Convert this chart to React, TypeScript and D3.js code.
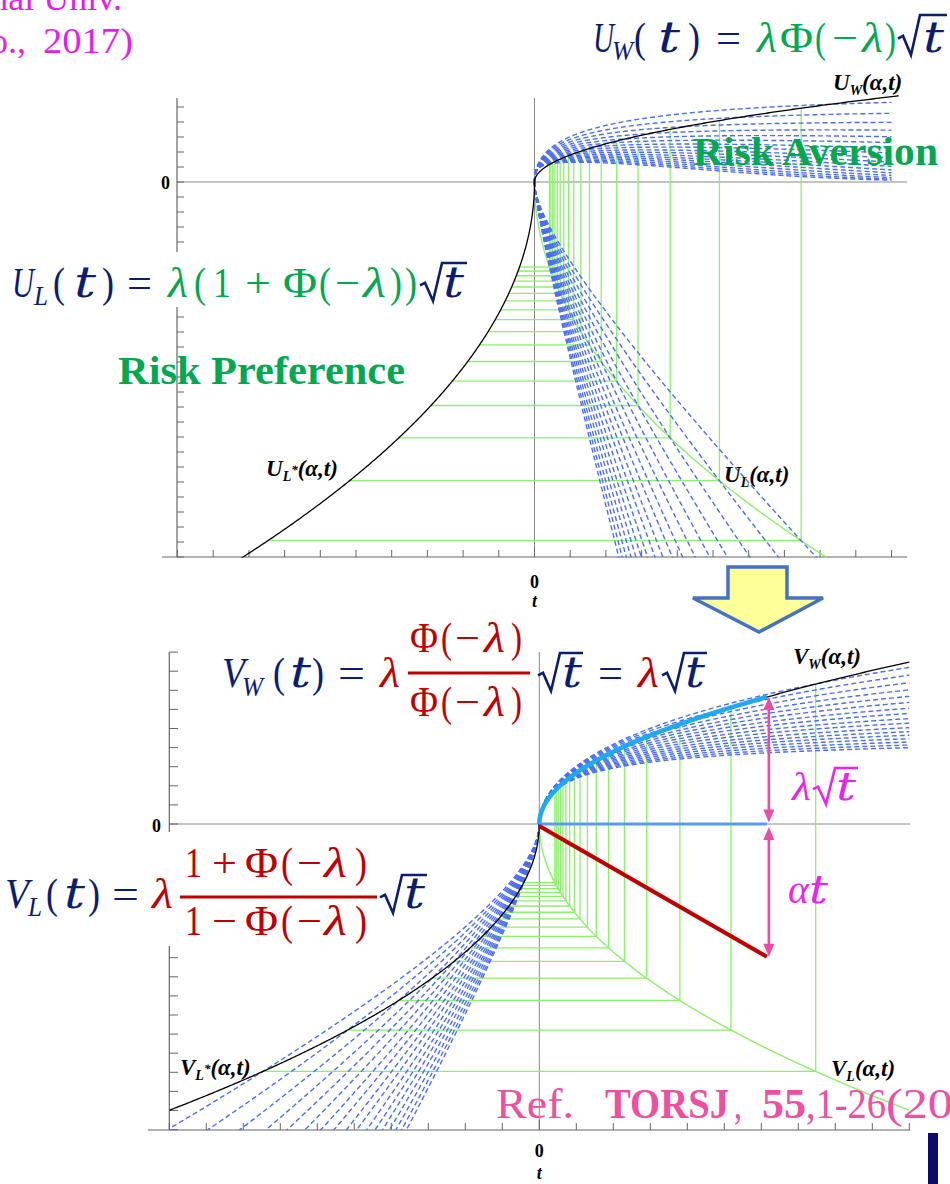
import React from "react";
import * as d3 from "d3";

// ---------- values ----------
// strategy times t_k (one per drift level α_k), marked by the green guide lines
const T_MARK = [7.47, 5.18, 3.8, 2.9, 2.3, 1.87, 1.54, 1.3, 1.1, 0.95, 0.82, 0.72, 0.64, 0.57, 0.51, 0.46, 0.42];
// √t coefficients of the envelope curves (axis tick units)
const U_WIN_COEF = 1.8;
const U_LOSS_COEF = 8.75;
const V_WIN_COEF = 2.68;
const V_LOSS_COEF = 4.74;
// shape of the dashed per-α curves
const U_WIN_SHAPE = { peak: 2.2, slope: 4.2, fade: 3.9 };
const U_LOSS_SHAPE = { root: 3.26, drift: 5.49 };
const V_WIN_SHAPE = { slope: 3.15, cap: 7.5, bend: 1.5 };
const V_LOSS_SHAPE = { root: 2.81, drift: 1.93 };
// time and drift used for the λ√t / αt annotation
const T_STAR = 6.15;
const ALPHA_RATE = 1.13;
// axis extents (tick units)
const TOP_T_RANGE = [-10, 10];
const TOP_Y_RANGE = [-25, 5];
const BOT_T_RANGE = [-10, 10];
const BOT_Y_RANGE = [-16, 9];

// ---------- scales ----------
const xTop = d3.scaleLinear().domain([-10, 10]).range([177.5, 891.5]);
const yTop = d3.scaleLinear().domain([-25, 0]).range([557, 182]);
const xBot = d3.scaleLinear().domain([-10, 10]).range([169.3, 909.3]);
const yBot = d3.scaleLinear().domain([-16, 0]).range([1129.6, 824]);

const NAVY = "#0c1c70";
const GREEN_TXT = "#00a850";
const RED = "#c00000";
const MAGENTA = "#ee22ee";
const PINK = "#ee4aa6";
const BLUE_DASH = "#4d6ef2";
const GUIDE = "#8cf06a";
const AXIS = "#666";
const ZERO = "#8a8a8a";
const MATH = "'Liberation Serif', 'DejaVu Serif', serif";
const MATH_T = "'DejaVu Serif', 'Liberation Serif', serif";

type Pt = [number, number];

// quadratic spacing of t so the √t shape near the origin is resolved
const sampleT = (tMax: number, n = 320): number[] => d3.range(n + 1).map((i) => tMax * (i / n) * (i / n));

const uWin = (u: number) => {
  const s = U_WIN_SHAPE;
  return s.peak * (1 - Math.exp((-s.slope * u) / s.peak)) * Math.exp(-Math.pow(u / s.fade, 4));
};
const vWin = (u: number) => {
  const s = V_WIN_SHAPE;
  return (s.slope * u) / Math.pow(1 + Math.pow((s.slope * u) / s.cap, s.bend), 1 / s.bend);
};

const topLine = d3
  .line<Pt>()
  .x((d) => xTop(d[0]))
  .y((d) => yTop(d[1]));
const botLine = d3
  .line<Pt>()
  .x((d) => xBot(d[0]))
  .y((d) => yBot(d[1]));

function Gl(p: {
  s: string;
  x: number;
  y: number;
  w?: number;
  size?: number;
  c: string;
  it?: boolean;
  b?: boolean;
  fam?: string;
}) {
  return (
    <text
      x={p.x}
      y={p.y}
      fontSize={p.size ?? 42}
      fill={p.c}
      fontStyle={p.it ? "italic" : "normal"}
      fontWeight={p.b ? "bold" : "normal"}
      fontFamily={p.fam ?? MATH}
      textLength={p.w}
      lengthAdjust="spacingAndGlyphs"
    >
      {p.s}
    </text>
  );
}

// italic variable t, drawn a little wider than the body serif
function TGlyph(p: { x: number; y: number; c: string; size?: number; w?: number }) {
  return <Gl s="t" x={p.x} y={p.y} w={p.w ?? 19} size={p.size ?? 42} c={p.c} it fam={MATH_T} />;
}

function Radical(p: { x0: number; x1: number; top: number; base: number; c: string; sw?: number }) {
  const h = p.base - p.top;
  const d = `M${p.x0},${p.top + h * 0.62} L${p.x0 + 5},${p.top + h * 0.55} L${p.x0 + 13},${p.base + 2} L${p.x0 + 22},${p.top} L${p.x1},${p.top}`;
  return <path d={d} fill="none" stroke={p.c} strokeWidth={p.sw ?? 2.6} strokeLinejoin="miter" />;
}

function CurveLabel(p: { x: number; y: number; sub: string; star?: boolean; head: string }) {
  return (
    <text x={p.x} y={p.y} fontFamily={MATH} fontStyle="italic" fontWeight="bold" fontSize={23} fill="#000">
      {p.head}
      <tspan fontSize={14} dy={5}>
        {p.sub}
      </tspan>
      {p.star ? (
        <tspan fontSize={13} dy={-7}>
          *
        </tspan>
      ) : null}
      <tspan dy={p.star ? 2 : -5}>(α,t)</tspan>
    </text>
  );
}

function DoubleArrow(p: { x: number; y1: number; y2: number }) {
  const head = 13;
  const hw = 5.5;
  const { x, y1, y2 } = p;
  return (
    <g>
      <line x1={x} y1={y1 + head - 2} x2={x} y2={y2 - head + 2} stroke={PINK} strokeWidth={2.6} />
      <polygon points={`${x},${y1} ${x - hw},${y1 + head} ${x + hw},${y1 + head}`} fill={PINK} />
      <polygon points={`${x},${y2} ${x - hw},${y2 - head} ${x + hw},${y2 - head}`} fill={PINK} />
    </g>
  );
}

export default function App() {
  const winT = sampleT(10);
  const marks = T_MARK.map((t) => ({ t, a: 1 / Math.sqrt(t) }));

  // dashed per-α curves
  const topWinPaths = marks.map((m) => topLine(winT.map((t) => [t, uWin(m.a * Math.sqrt(t)) / m.a] as Pt)) as string);
  const topLossPaths = marks.map(
    (m) => topLine(winT.map((t) => [t, -(U_LOSS_SHAPE.root * Math.sqrt(t) + U_LOSS_SHAPE.drift * m.a * t)] as Pt)) as string
  );
  const botWinPaths = marks.map((m) => botLine(winT.map((t) => [t, vWin(m.a * Math.sqrt(t)) / m.a] as Pt)) as string);
  const botLossPaths = marks.map(
    (m) => botLine(winT.map((t) => [-t, -(V_LOSS_SHAPE.root * Math.sqrt(t) + V_LOSS_SHAPE.drift * m.a * t)] as Pt)) as string
  );

  // envelope curves
  const uW = topLine(sampleT(10.2).map((t) => [t, U_WIN_COEF * Math.sqrt(t)] as Pt)) as string;
  const uL = topLine(sampleT(8.4).map((t) => [t, -U_LOSS_COEF * Math.sqrt(t)] as Pt)) as string;
  const uLs = topLine(sampleT(8.4).map((t) => [-t, -U_LOSS_COEF * Math.sqrt(t)] as Pt)) as string;
  const vW = botLine(sampleT(10).map((t) => [t, V_WIN_COEF * Math.sqrt(t)] as Pt)) as string;
  const vL = botLine(sampleT(10).map((t) => [t, -V_LOSS_COEF * Math.sqrt(t)] as Pt)) as string;
  const vLs = botLine(sampleT(10).map((t) => [-t, -V_LOSS_COEF * Math.sqrt(t)] as Pt)) as string;
  const cyan = botLine(sampleT(T_STAR).map((t) => [t, V_WIN_COEF * Math.sqrt(t)] as Pt)) as string;

  const starTop = yBot(V_WIN_COEF * Math.sqrt(T_STAR));
  const starBottom = yBot(-ALPHA_RATE * T_STAR);
  const xStar = xBot(T_STAR);

  const topXTicks = d3.range(TOP_T_RANGE[0], TOP_T_RANGE[1] + 1);
  const topYTicks = d3.range(TOP_Y_RANGE[0], TOP_Y_RANGE[1] + 1);
  const botXTicks = d3.range(BOT_T_RANGE[0], BOT_T_RANGE[1] + 1);
  const botYTicks = d3.range(BOT_Y_RANGE[0], BOT_Y_RANGE[1] + 1);

  return (
    <svg
      width={950}
      height={1184}
      viewBox="0 0 950 1184"
      style={{ position: "absolute", left: 0, top: 0, background: "#fff" }}
      xmlns="http://www.w3.org/2000/svg"
    >
      <defs>
        <clipPath id="clipTop">
          <rect x={177} y={94} width={740} height={463.5} />
        </clipPath>
        <clipPath id="clipBot">
          <rect x={169.3} y={648} width={745} height={482} />
        </clipPath>
      </defs>
      <rect x={0} y={0} width={950} height={1184} fill="#fff" />

      {/* ---------------- upper panel ---------------- */}
      <g>
        <line x1={177} x2={907} y1={yTop(0)} y2={yTop(0)} stroke={ZERO} strokeWidth={1} />
        <line x1={xTop(0)} x2={xTop(0)} y1={98} y2={557} stroke={ZERO} strokeWidth={1} />
        <line x1={177} x2={177} y1={98} y2={557} stroke={AXIS} strokeWidth={1.2} />
        <line x1={162} x2={907} y1={557} y2={557} stroke={AXIS} strokeWidth={1.2} />
        {topYTicks.map((v) => (
          <line key={`tyt${v}`} x1={177} x2={184} y1={yTop(v)} y2={yTop(v)} stroke={AXIS} strokeWidth={1} />
        ))}
        {topXTicks.map((v) => (
          <line key={`txt${v}`} x1={xTop(v)} x2={xTop(v)} y1={557} y2={v === 0 ? 547 : 550} stroke={AXIS} strokeWidth={1} />
        ))}
        <g clipPath="url(#clipTop)">
          {marks.map((m, i) => (
            <g key={`tg${i}`} stroke={GUIDE} strokeWidth={1.3}>
              <line
                x1={xTop(m.t)}
                x2={xTop(m.t)}
                y1={yTop(U_WIN_COEF * Math.sqrt(m.t))}
                y2={yTop(-U_LOSS_COEF * Math.sqrt(m.t))}
              />
              <line
                x1={xTop(-m.t)}
                x2={xTop(m.t)}
                y1={yTop(-U_LOSS_COEF * Math.sqrt(m.t))}
                y2={yTop(-U_LOSS_COEF * Math.sqrt(m.t))}
              />
            </g>
          ))}
          <path d={uL} fill="none" stroke={GUIDE} strokeWidth={1.4} />
          {topWinPaths.concat(topLossPaths).map((d, i) => (
            <path key={`tdash${i}`} d={d} fill="none" stroke={BLUE_DASH} strokeWidth={1.4} strokeDasharray="5,3" />
          ))}
          <path d={uW} fill="none" stroke="#000" strokeWidth={1.3} />
          <path d={uLs} fill="none" stroke="#000" strokeWidth={1.3} />
        </g>
        <text x={170} y={189} textAnchor="end" fontFamily={MATH} fontWeight="bold" fontSize={18}>
          0
        </text>
        <text x={xTop(0)} y={588} textAnchor="middle" fontFamily={MATH} fontWeight="bold" fontSize={18}>
          0
        </text>
        <text x={xTop(0)} y={607} textAnchor="middle" fontFamily={MATH} fontStyle="italic" fontWeight="bold" fontSize={18}>
          t
        </text>
        <CurveLabel x={833} y={90} head="U" sub="W" />
        <CurveLabel x={266} y={476} head="U" sub="L" star />
        <CurveLabel x={724} y={482} head="U" sub="L" />
      </g>

      {/* ---------------- lower panel ---------------- */}
      <g>
        <line x1={169.3} x2={910} y1={yBot(0)} y2={yBot(0)} stroke={ZERO} strokeWidth={1} />
        <line x1={xBot(0)} x2={xBot(0)} y1={652} y2={1130} stroke={ZERO} strokeWidth={1} />
        <line x1={169.3} x2={169.3} y1={652} y2={1130} stroke={AXIS} strokeWidth={1.2} />
        <line x1={148} x2={910} y1={1130} y2={1130} stroke={AXIS} strokeWidth={1.2} />
        {botYTicks.map((v) => (
          <line key={`byt${v}`} x1={169.3} x2={178} y1={yBot(v)} y2={yBot(v)} stroke={AXIS} strokeWidth={1} />
        ))}
        {botXTicks.map((v) => (
          <line key={`bxt${v}`} x1={xBot(v)} x2={xBot(v)} y1={1130} y2={v === 0 ? 1120 : 1123} stroke={AXIS} strokeWidth={1} />
        ))}
        <g clipPath="url(#clipBot)">
          {marks.map((m, i) => (
            <g key={`bg${i}`} stroke={GUIDE} strokeWidth={1.3}>
              <line
                x1={xBot(m.t)}
                x2={xBot(m.t)}
                y1={yBot(V_WIN_COEF * Math.sqrt(m.t))}
                y2={yBot(-V_LOSS_COEF * Math.sqrt(m.t))}
              />
              <line
                x1={xBot(-m.t)}
                x2={xBot(m.t)}
                y1={yBot(-V_LOSS_COEF * Math.sqrt(m.t))}
                y2={yBot(-V_LOSS_COEF * Math.sqrt(m.t))}
              />
            </g>
          ))}
          <path d={vL} fill="none" stroke={GUIDE} strokeWidth={1.4} />
          {botWinPaths.concat(botLossPaths).map((d, i) => (
            <path key={`bdash${i}`} d={d} fill="none" stroke={BLUE_DASH} strokeWidth={1.4} strokeDasharray="5,3" />
          ))}
          <path d={vW} fill="none" stroke="#000" strokeWidth={1.3} />
          <path d={vLs} fill="none" stroke="#000" strokeWidth={1.3} />
        </g>
        <line x1={xBot(0)} x2={xStar} y1={yBot(0)} y2={yBot(0)} stroke="#5b9bf5" strokeWidth={3} />
        <path d={cyan} fill="none" stroke="#1eaaf0" strokeWidth={4.5} />
        <line x1={xBot(0)} y1={yBot(0) + 2} x2={xStar} y2={starBottom} stroke={RED} strokeWidth={4.2} />
        <DoubleArrow x={xStar + 2} y1={starTop} y2={yBot(0) - 1.5} />
        <DoubleArrow x={xStar + 2} y1={yBot(0) + 3} y2={starBottom} />
        <text x={161} y={832} textAnchor="end" fontFamily={MATH} fontWeight="bold" fontSize={18}>
          0
        </text>
        <text x={xBot(0)} y={1157} textAnchor="middle" fontFamily={MATH} fontWeight="bold" fontSize={18}>
          0
        </text>
        <text x={xBot(0)} y={1179} textAnchor="middle" fontFamily={MATH} fontStyle="italic" fontWeight="bold" fontSize={18}>
          t
        </text>
        <CurveLabel x={793} y={664} head="V" sub="W" />
        <CurveLabel x={180} y={1075} head="V" sub="L" star />
        <CurveLabel x={831} y={1076} head="V" sub="L" />
      </g>

      {/* ---------------- block arrow between panels ---------------- */}
      <polygon
        points="728,567 787,567 787,598 823,598 759,632 693,598 728,598"
        fill="#ffff99"
        stroke="#4472c4"
        strokeWidth={3.5}
        strokeLinejoin="miter"
      />

      {/* ---------------- header text ---------------- */}
      <text x={122} y={10} textAnchor="end" fontFamily={MATH} fontSize={36} fill="#e61ee6">
        National Univ.
      </text>
      <text x={26} y={53} textAnchor="end" fontFamily={MATH} fontSize={36} fill="#e61ee6">
        Co.,
      </text>
      <Gl s="2017)" x={43} y={53} w={90} size={36} c="#e61ee6" />

      {/* U_W(t) = λΦ(−λ)√t */}
      <Gl s="U" x={593} y={52} w={21} c={NAVY} it />
      <Gl s="W" x={612} y={60} w={21} size={27} c={NAVY} it />
      <Gl s="(" x={634} y={52} w={12} c={NAVY} />
      <TGlyph x={658} y={52} c={NAVY} w={22} />
      <Gl s=")" x={688} y={52} w={12} c={NAVY} />
      <Gl s="=" x={716} y={52} w={25} c={NAVY} />
      <Gl s="λ" x={757} y={52} w={20} c={GREEN_TXT} it />
      <Gl s="Φ" x={780} y={52} w={33} c={GREEN_TXT} />
      <Gl s="(" x={815} y={52} w={11} c={GREEN_TXT} />
      <Gl s="−" x={832} y={52} w={26} c={GREEN_TXT} />
      <Gl s="λ" x={862} y={52} w={21} c={GREEN_TXT} it />
      <Gl s=")" x={885} y={52} w={11} c={GREEN_TXT} />
      <Radical x0={898} x1={947} top={15} base={53} c={NAVY} />
      <TGlyph x={923} y={52} c={NAVY} w={21} />

      <text x={693} y={165} fontFamily={MATH} fontWeight="bold" fontSize={40} fill={GREEN_TXT} textLength={245} lengthAdjust="spacingAndGlyphs">
        Risk Aversion
      </text>

      {/* U_L(t) = λ(1 + Φ(−λ))√t */}
      <rect x={0} y={252} width={478} height={55} fill="#fff" />
      <Gl s="U" x={12} y={297} w={22} c={NAVY} it />
      <Gl s="L" x={34} y={305} w={14} size={27} c={NAVY} it />
      <Gl s="(" x={53} y={297} w={12} c={NAVY} />
      <TGlyph x={74} y={297} c={NAVY} w={22} />
      <Gl s=")" x={102} y={297} w={12} c={NAVY} />
      <Gl s="=" x={127} y={297} w={25} c={NAVY} />
      <Gl s="λ" x={168} y={297} w={20} c={GREEN_TXT} it />
      <Gl s="(" x={194} y={297} w={12} c={GREEN_TXT} />
      <Gl s="1" x={213} y={297} w={18} c={GREEN_TXT} />
      <Gl s="+" x={245} y={297} w={26} c={GREEN_TXT} />
      <Gl s="Φ" x={283} y={297} w={34} c={GREEN_TXT} />
      <Gl s="(" x={319} y={297} w={12} c={GREEN_TXT} />
      <Gl s="−" x={335} y={297} w={25} c={GREEN_TXT} />
      <Gl s="λ" x={363} y={297} w={23} c={GREEN_TXT} it />
      <Gl s=")" x={390} y={297} w={12} c={GREEN_TXT} />
      <Gl s=")" x={405} y={297} w={12} c={GREEN_TXT} />
      <Radical x0={420} x1={467} top={263} base={299} c={NAVY} />
      <TGlyph x={443} y={297} c={NAVY} w={21} />

      <text x={118} y={384} fontFamily={MATH} fontWeight="bold" fontSize={40} fill={GREEN_TXT} textLength={287} lengthAdjust="spacingAndGlyphs">
        Risk Preference
      </text>

      {/* V_W(t) = λ Φ(−λ)/Φ(−λ) √t = λ√t */}
      <Gl s="V" x={222} y={687} w={23} c={NAVY} it />
      <Gl s="W" x={242} y={696} w={21} size={27} c={NAVY} it />
      <Gl s="(" x={273} y={687} w={12} c={NAVY} />
      <TGlyph x={290} y={687} c={NAVY} w={21} />
      <Gl s=")" x={312} y={687} w={12} c={NAVY} />
      <Gl s="=" x={338} y={687} w={27} c={NAVY} />
      <Gl s="λ" x={380} y={687} w={20} c={RED} it />
      <line x1={408} x2={530} y1={673} y2={673} stroke={RED} strokeWidth={3} />
      {[652, 716].map((by) => (
        <g key={`vwf${by}`}>
          <Gl s="Φ" x={410} y={by} w={28} c={RED} />
          <Gl s="(" x={441} y={by} w={11} c={RED} />
          <Gl s="−" x={455} y={by} w={25} c={RED} />
          <Gl s="λ" x={484} y={by} w={21} c={RED} it />
          <Gl s=")" x={511} y={by} w={11} c={RED} />
        </g>
      ))}
      <Radical x0={538} x1={583} top={653} base={689} c={NAVY} />
      <TGlyph x={562} y={687} c={NAVY} w={20} />
      <Gl s="=" x={598} y={687} w={25} c={NAVY} />
      <Gl s="λ" x={638} y={687} w={21} c={RED} it />
      <Radical x0={662} x1={707} top={653} base={689} c={NAVY} />
      <TGlyph x={685} y={687} c={NAVY} w={20} />

      {/* V_L(t) = λ (1+Φ(−λ))/(1−Φ(−λ)) √t */}
      <rect x={0} y={832} width={432} height={114} fill="#fff" />
      <Gl s="V" x={5} y={908} w={24} c={NAVY} it />
      <Gl s="L" x={28} y={916} w={14} size={27} c={NAVY} it />
      <Gl s="(" x={46} y={908} w={12} c={NAVY} />
      <TGlyph x={64} y={908} c={NAVY} w={21} />
      <Gl s=")" x={88} y={908} w={12} c={NAVY} />
      <Gl s="=" x={112} y={908} w={27} c={NAVY} />
      <Gl s="λ" x={152} y={908} w={21} c={RED} it />
      <line x1={180} x2={377} y1={897} y2={897} stroke={RED} strokeWidth={3} />
      {[
        { by: 877, op: "+" },
        { by: 935, op: "−" },
      ].map((r) => (
        <g key={`vlf${r.by}`}>
          <Gl s="1" x={185} y={r.by} w={17} c={RED} />
          <Gl s={r.op} x={212} y={r.by} w={25} c={RED} />
          <Gl s="Φ" x={245} y={r.by} w={33} c={RED} />
          <Gl s="(" x={281} y={r.by} w={12} c={RED} />
          <Gl s="−" x={297} y={r.by} w={25} c={RED} />
          <Gl s="λ" x={324} y={r.by} w={23} c={RED} it />
          <Gl s=")" x={355} y={r.by} w={12} c={RED} />
        </g>
      ))}
      <Radical x0={380} x1={427} top={875} base={911} c={NAVY} />
      <TGlyph x={404} y={908} c={NAVY} w={21} />

      {/* λ√t and αt */}
      <Gl s="λ" x={792} y={800} w={19} size={40} c={MAGENTA} it />
      <Radical x0={813} x1={858} top={768} base={802} c={MAGENTA} />
      <TGlyph x={836} y={800} c={MAGENTA} w={20} size={40} />
      <Gl s="α" x={788} y={903} w={21} size={40} c={MAGENTA} it />
      <TGlyph x={809} y={903} c={MAGENTA} w={19} size={40} />

      {/* reference */}
      <Gl s="Ref." x={496} y={1118} w={78} c="#ef4ea1" />
      <Gl s="TORSJ" x={605} y={1118} w={124} c="#ef4ea1" b />
      <Gl s="," x={734} y={1118} w={8} c="#ef4ea1" />
      <Gl s="55" x={762} y={1118} w={44} c="#ef4ea1" b />
      <Gl s=",1-26" x={806} y={1118} w={80} c="#ef4ea1" />
      <Gl s="(2012)" x={886} y={1118} w={134} c="#ef4ea1" />

      <rect x={928} y={1133} width={10} height={51} fill="#0b0b6e" />
    </svg>
  );
}
